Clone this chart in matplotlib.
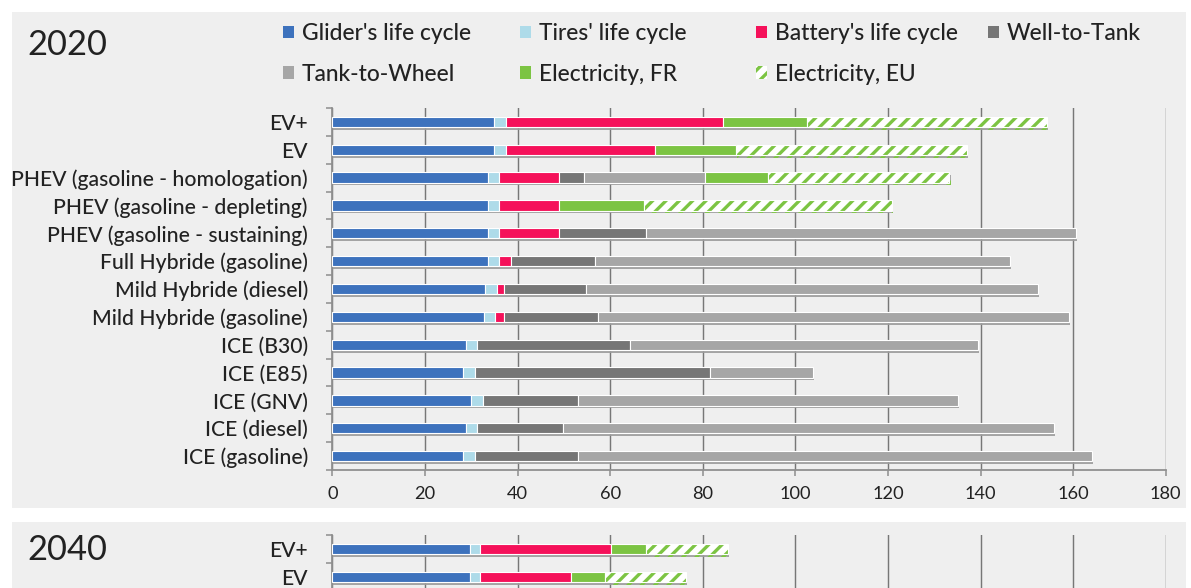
import matplotlib
matplotlib.use("Agg")
import matplotlib.pyplot as plt
from matplotlib.patches import Patch, Rectangle
from matplotlib import patheffects as pe
import numpy as np

# ---------------------------------------------------------------- data
categories_2020 = [
    "EV+", "EV",
    "PHEV (gasoline - homologation)",
    "PHEV (gasoline - depleting)",
    "PHEV (gasoline - sustaining)",
    "Full Hybride (gasoline)",
    "Mild Hybride (diesel)",
    "Mild Hybride (gasoline)",
    "ICE (B30)", "ICE (E85)", "ICE (GNV)", "ICE (diesel)", "ICE (gasoline)",
]
glider_2020   = [35.0, 35.0, 33.6, 33.6, 33.6, 33.6, 33.0, 32.8, 28.8, 28.3, 30.0, 28.8, 28.3]
tires_2020    = [2.5, 2.5, 2.3, 2.3, 2.3, 2.3, 2.5, 2.3, 2.4, 2.5, 2.5, 2.4, 2.5]
battery_2020  = [46.9, 32.3, 13.1, 13.1, 13.1, 2.7, 1.6, 2.0, 0, 0, 0, 0, 0]
wtt_2020      = [0, 0, 5.4, 0, 18.7, 18.2, 17.7, 20.2, 33.1, 50.8, 20.5, 18.7, 22.2]
ttw_2020      = [0, 0, 26.1, 0, 92.9, 89.6, 97.6, 101.8, 75.2, 22.3, 82.2, 106.0, 111.0]
elec_fr_2020  = [18.1, 17.4, 13.7, 18.4, 0, 0, 0, 0, 0, 0, 0, 0, 0]
elec_eu_2020  = [51.8, 49.8, 39.1, 53.4, 0, 0, 0, 0, 0, 0, 0, 0, 0]

categories_2040 = ["EV+", "EV"]
glider_2040   = [29.7, 29.7]
tires_2040    = [2.2, 2.2]
battery_2040  = [28.4, 19.6]
wtt_2040      = [0, 0]
ttw_2040      = [0, 0]
elec_fr_2040  = [7.5, 7.4]
elec_eu_2040  = [17.7, 17.5]

series_names = ["Glider's life cycle", "Tires' life cycle", "Battery's life cycle",
                "Well-to-Tank", "Tank-to-Wheel", "Electricity, FR", "Electricity, EU"]
series_colors = ["#3d72bd", "#aedbe9", "#f5115a", "#767676", "#a6a6a6", "#7cc443", "#7cc443"]
x_ticks = [0, 20, 40, 60, 80, 100, 120, 140, 160, 180]
years = ["2020", "2040"]

# ---------------------------------------------------------------- styling
DPI = 80
W, H = 1191, 588
PT = 72.0 / DPI          # points per pixel
FONT = "Lato"
TXT = "#222222"
SPINE = "#8f8f8f"
GRID = "#777777"
PANEL = "#efefef"

plt.rcParams["font.family"] = [FONT, "DejaVu Sans"]
plt.rcParams["hatch.linewidth"] = 3.0

def fx(px):
    return px / W

def fy(py):
    return 1 - py / H

fig = plt.figure(figsize=(W / DPI, H / DPI), dpi=DPI, facecolor="white")

# panel backgrounds
for top, bottom in [(12, 508), (522, 640)]:
    fig.patches.append(Rectangle((fx(12), fy(bottom)), fx(1186) - fx(12), fy(top) - fy(bottom),
                                 transform=fig.transFigure, facecolor=PANEL,
                                 edgecolor="none", zorder=-5))

shadow = [pe.SimplePatchShadow(offset=(1.0, -2.4), shadow_rgbFace="#9c9c9c", alpha=0.9),
          pe.Normal()]
BAR_H = 0.37


def draw_panel(ax, cats, series, n_slots, show_xlabels=True):
    y = np.arange(len(cats))
    left = np.zeros(len(cats))
    for k, vals in enumerate(series):
        vals = np.asarray(vals, dtype=float)
        idx = vals > 0
        if k == 6:
            bars = ax.barh(y[idx], vals[idx], left=left[idx], height=BAR_H,
                           color="white", edgecolor=series_colors[k], hatch="//",
                           linewidth=0, zorder=3)
            ax.barh(y[idx], vals[idx], left=left[idx], height=BAR_H,
                    fill=False, edgecolor="white", linewidth=1.0, zorder=3)
        else:
            bars = ax.barh(y[idx], vals[idx], left=left[idx], height=BAR_H,
                           color=series_colors[k], edgecolor="white",
                           linewidth=1.0, zorder=3)
        for b in bars:
            b.set_path_effects(shadow)
        left = left + vals

    ax.set_xlim(0, 180)
    ax.set_ylim(n_slots - 0.5, -0.5)
    ax.set_facecolor("none")
    ax.set_xticks(x_ticks)
    ax.set_yticks(y)
    ax.set_yticklabels(cats, fontweight="medium")
    ax.set_yticks(np.arange(-0.5, n_slots, 1.0), minor=True)
    ax.grid(axis="x", color=GRID, linewidth=1.3, zorder=1)
    ax.set_axisbelow(True)
    for s in ["top", "right"]:
        ax.spines[s].set_visible(False)
    for s in ["left", "bottom"]:
        ax.spines[s].set_color(SPINE)
        ax.spines[s].set_linewidth(1.6)
    ax.tick_params(axis="y", which="major", length=0, pad=22,
                   labelsize=19.0, labelcolor=TXT)
    ax.tick_params(axis="y", which="minor", length=6 * PT, width=1.4, color=SPINE)
    ax.tick_params(axis="x", which="major", length=6 * PT, width=1.4, color=SPINE,
                   labelsize=16.4, labelcolor=TXT, pad=9, labelbottom=show_xlabels)


# 2020 panel
ax1 = fig.add_axes([fx(332.3), fy(470), fx(1165.7) - fx(332.3), fy(108) - fy(470)])
draw_panel(ax1, categories_2020,
           [glider_2020, tires_2020, battery_2020, wtt_2020, ttw_2020, elec_fr_2020, elec_eu_2020],
           len(categories_2020))

# 2040 panel (same row pitch, continues below the visible area)
row_px = 28.0
n40 = 13
ax2 = fig.add_axes([fx(332.3), fy(535 + n40 * row_px), fx(1165.7) - fx(332.3), n40 * row_px / H])
draw_panel(ax2, categories_2040,
           [glider_2040, tires_2040, battery_2040, wtt_2040, ttw_2040, elec_fr_2040, elec_eu_2040],
           n40, show_xlabels=False)

# year titles
fig.text(fx(27), fy(45), years[0], fontsize=31, color=TXT, va="center", ha="left")
fig.text(fx(27), fy(550), years[1], fontsize=31, color=TXT, va="center", ha="left")

# legend, laid out in four columns
handles = []
for k, (name, col) in enumerate(zip(series_names, series_colors)):
    if k == 6:
        handles.append(Patch(facecolor="white", edgecolor=col, hatch="//", linewidth=0))
    else:
        handles.append(Patch(facecolor=col, edgecolor="none"))

columns = [[0, 4], [1, 5], [2, 6], [3]]
col_x = [283, 520, 756, 988]
for cx, idxs in zip(col_x, columns):
    leg = fig.legend([handles[i] for i in idxs], [series_names[i] for i in idxs],
                     loc="upper left", bbox_to_anchor=(fx(cx), fy(23)),
                     frameon=False, borderpad=0, borderaxespad=0,
                     fontsize=20.5, labelcolor=TXT,
                     handlelength=0.48, handleheight=0.48, handletextpad=0.35,
                     labelspacing=0.86)
    for t in leg.get_texts():
        t.set_fontweight("medium")

fig.savefig("out.png", dpi=DPI, facecolor="white")
